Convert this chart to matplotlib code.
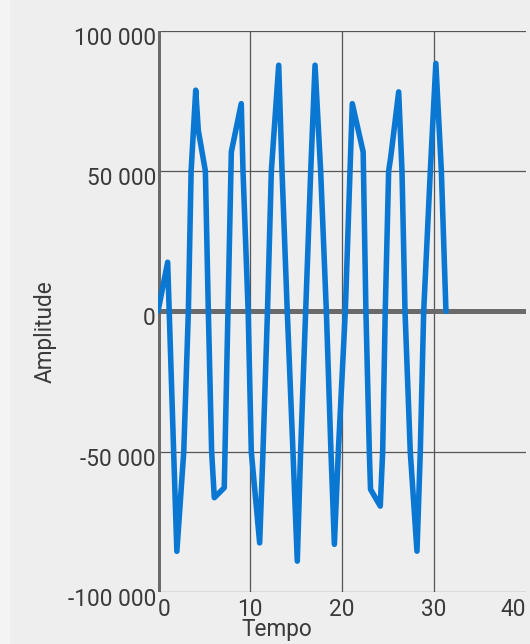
import matplotlib
matplotlib.use("Agg")
import matplotlib.pyplot as plt
import matplotlib.transforms as mtransforms
from matplotlib.patches import Rectangle

plt.rcParams['font.family'] = ['Roboto', 'DejaVu Sans']

# vertices (time, amplitude)
tempo = [0.0, 1.05, 1.7, 2.05, 2.8, 3.3, 3.6, 4.1, 4.38, 5.15, 5.47, 5.83,
         6.12, 7.2, 7.97, 9.05, 9.24, 9.8, 10.14, 11.05, 11.41, 11.9, 12.32,
         13.12, 13.48, 14.05, 14.67, 15.14, 15.5, 16.05, 16.6, 17.07, 17.68,
         18.3, 18.8, 19.17, 19.6, 20.36, 20.87, 21.12, 22.3, 22.6, 22.97,
         23.1, 24.16, 24.42, 24.7, 25.07, 25.3, 26.16, 26.52, 26.85, 27.42,
         28.15, 28.51, 28.88, 29.6, 30.2, 30.8, 31.3]
amplitude = [0, 17500, -50000, -85500, -50000, 0, 50000, 78800, 64500, 50000, 0, -50000,
             -66400, -62850, 56800, 74000, 50000, 0, -50000, -82500, -50000, 0, 50000,
             87700, 50000, 0, -50000, -89000, -50000, 0, 50000, 87700, 50000,
             0, -50000, -83000, -50000, 0, 50000, 74000, 56800, 0, -50000,
             -63400, -69400, -50000, 0, 50000, 55000, 78200, 50000, 0, -50000,
             -85450, -50000, 0, 50000, 88350, 50000, 0]

x_ticks = [0, 10, 20, 30, 40]
y_ticks = [-100000, -50000, 0, 50000, 100000]

W, H = 530, 644
bg = '#eeeeee'
grid_col = '#555555'
axis_col = '#6a6a6a'
text_col = '#3a3a3a'
blue = '#0a78d2'

fig = plt.figure(figsize=(W / 100, H / 100), dpi=100, facecolor=bg)
fig.patches.append(Rectangle((0, 0), 10 / W, 1, transform=fig.transFigure,
                             facecolor='#f4f4f4', edgecolor='none', zorder=-1))

ax = fig.add_axes([158 / W, 52 / H, 368 / W, 561.3 / H])
ax.set_facecolor(bg)
ax.set_xlim(0, 40)
ax.set_ylim(-100000, 100000)
for s in ax.spines.values():
    s.set_visible(False)

# thin grid lines
for xv in x_ticks[1:4]:
    ax.axvline(xv, color=grid_col, lw=0.9, zorder=1)
for yv in [-100000, -50000, 50000, 100000]:
    ax.axhline(yv, color=grid_col, lw=0.9, zorder=1)

# thick axis lines
ax.axvline(0, color=axis_col, lw=4.3, zorder=2)
ax.axhline(0, color=axis_col, lw=3.6, zorder=2)

ax.plot(tempo, amplitude, color=blue, lw=4.0, zorder=3,
        solid_joinstyle='round', solid_capstyle='round')


def fmt(v):
    s = f"{abs(int(v)):,}".replace(",", " ")
    return ("-" + s) if v < 0 else s


ax.set_xticks(x_ticks)
ax.set_xticklabels([str(v) for v in x_ticks])
ax.set_yticks(y_ticks)
ax.set_yticklabels([fmt(v) for v in y_ticks])
ax.tick_params(length=0, labelsize=16.3, labelcolor=text_col)
ax.tick_params(axis='y', pad=1.5)
ax.tick_params(axis='x', pad=4)

xl = ax.get_xticklabels()
xl[0].set_horizontalalignment('left')
xl[-1].set_horizontalalignment('right')

shift = mtransforms.ScaledTranslation(0, -5 / 100, fig.dpi_scale_trans)
for lbl in ax.get_yticklabels():
    lbl.set_transform(lbl.get_transform() + shift)

fig.text(277 / W, 8 / H, "Tempo", ha='center', va='baseline',
         fontsize=16.3, color=text_col)
fig.text(45 / W, (H - 331.7) / H, "Amplitude", rotation=90, ha='center',
         va='center', fontsize=16.3, color=text_col)

fig.savefig("out.png", dpi=100, facecolor=bg)
